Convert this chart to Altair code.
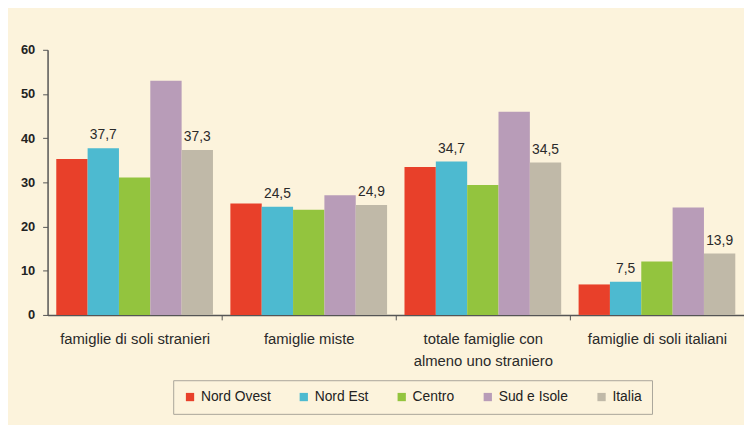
import altair as alt
import pandas as pd

categories = [
    "famiglie di soli stranieri",
    "famiglie miste",
    "totale famiglie con almeno uno straniero",
    "famiglie di soli italiani",
]
series = ["Nord Ovest", "Nord Est", "Centro", "Sud e Isole", "Italia"]

nord_ovest = [35.3, 25.2, 33.5, 6.9]
nord_est = [37.7, 24.5, 34.7, 7.5]
centro = [31.1, 23.8, 29.4, 12.1]
sud_isole = [53.0, 27.1, 46.0, 24.3]
italia = [37.3, 24.9, 34.5, 13.9]

labels_nord_est = ["37,7", "24,5", "34,7", "7,5"]
labels_italia = ["37,3", "24,9", "34,5", "13,9"]

colors = ["#e8402a", "#4dbad0", "#93c43e", "#b89cb8", "#c0b9a8"]
y_ticks = [0, 10, 20, 30, 40, 50, 60]

values_by_series = [nord_ovest, nord_est, centro, sud_isole, italia]
labels_by_series = [["", "", "", ""], labels_nord_est, ["", "", "", ""], ["", "", "", ""], labels_italia]

rows = []
for s, vals, labs in zip(series, values_by_series, labels_by_series):
    for c, v, l in zip(categories, vals, labs):
        rows.append({"categoria": c, "area": s, "valore": v, "etichetta": l})
df = pd.DataFrame(rows)

FONT = "Liberation Sans"
W, H = 704, 268
step = W / 4

x_enc = alt.X(
    "categoria:N",
    sort=categories,
    scale=alt.Scale(paddingInner=0.1, paddingOuter=0.05),
    axis=alt.Axis(
        title=None,
        labelAngle=0,
        labelFont=FONT,
        labelFontSize=15,
        labelColor="#2a2a2a",
        labelLineHeight=22,
        labelPadding=12,
        labelExpr="datum.value == 'totale famiglie con almeno uno straniero' ? ['totale famiglie con', 'almeno uno straniero'] : datum.value",
        tickOffset=step / 2,
        labelOffset=-step / 2,
        tickSize=5,
        tickColor="#555555",
        domainColor="#555555",
        domainWidth=1.5,
    ),
)
xoff_enc = alt.XOffset("area:N", sort=series, scale=alt.Scale(paddingInner=0, paddingOuter=0))
y_enc = alt.Y(
    "valore:Q",
    scale=alt.Scale(domain=[0, 60], nice=False),
    axis=alt.Axis(
        title=None,
        values=y_ticks,
        grid=False,
        labelFont=FONT,
        labelFontSize=13,
        labelFontWeight="bold",
        labelColor="#222222",
        labelPadding=8,
        tickSize=5,
        tickColor="#555555",
        domainColor="#555555",
        domainWidth=1.5,
    ),
)

bars = alt.Chart(df).mark_bar().encode(
    x=x_enc,
    xOffset=xoff_enc,
    y=y_enc,
    color=alt.Color(
        "area:N",
        sort=series,
        scale=alt.Scale(domain=series, range=colors),
        legend=alt.Legend(
            title=None,
            orient="none",
            legendX=127,
            legendY=334,
            direction="horizontal",
            symbolType="square",
            symbolSize=70,
            symbolStrokeWidth=0,
            labelFont=FONT,
            labelFontSize=14,
            labelColor="#222222",
            columnPadding=26,
            padding=10,
            fillColor="#fcf3dc",
            strokeColor="#a9a59a",
        ),
    ),
)

text = alt.Chart(df).transform_filter("datum.etichetta != ''").mark_text(
    baseline="alphabetic", dy=-9, font=FONT, fontSize=14, color="#2a2a2a"
).encode(
    x=alt.X("categoria:N", sort=categories),
    xOffset=alt.XOffset("area:N", sort=series),
    y=alt.Y("valore:Q"),
    text="etichetta:N",
)

chart = (
    alt.layer(bars, text)
    .properties(
        width=W,
        height=H,
        autosize=alt.AutoSizeParams(type="none"),
        padding={"left": 40, "top": 40, "right": 0, "bottom": 109},
        background="#fcf3dc",
    )
    .configure_view(stroke=None)
)

chart.save("out.html", embed_options={"renderer": "svg", "actions": False})
